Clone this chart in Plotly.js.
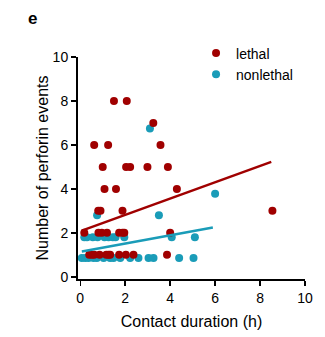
<!DOCTYPE html>
<html>
<head>
<meta charset="utf-8">
<script src="https://cdn.plot.ly/plotly-3.0.1.min.js"></script>
<style>
html,body{margin:0;padding:0;background:#fff;}
#chart{width:325px;height:337px;}
</style>
</head>
<body>
<div id="chart"></div>
<script>
// Lethal contacts
const lethalX = [1.5, 2.07, 3.25, 0.62, 1.24, 3.57,
  1.0, 2.04, 2.22, 2.99, 3.9,
  1.08, 1.59, 4.3,
  0.8, 0.9, 1.88, 8.55,
  0.18, 0.81, 0.96, 1.19, 1.73, 1.88, 1.96, 4.0,
  0.4, 0.52, 0.62, 0.86, 1.16, 1.26, 1.33, 1.73, 2.03, 2.37, 3.86];
const lethalY = [8, 8, 7, 6, 6, 6,
  5, 5, 5, 5, 5,
  4, 4, 4,
  3, 3, 3, 3,
  2, 2, 2, 2, 2, 2, 2, 2,
  1, 1, 1, 1, 1, 1, 1, 1, 1, 1, 1];
// Nonlethal contacts
const nonlethalX = [3.1, 0.75, 3.5, 6.0,
  0.18, 0.3, 0.56, 0.77, 1.08, 1.26, 1.45, 1.57, 1.96, 4.07, 5.1,
  0.07, 0.22, 0.37, 0.59, 0.74, 1.04, 1.33, 1.48, 1.78, 2.22, 2.59, 3.04, 3.26, 4.4, 5.04];
const nonlethalY = [6.75, 2.8, 2.8, 3.78,
  1.8, 1.8, 1.8, 1.8, 1.8, 1.8, 1.8, 1.8, 1.8, 1.8, 1.8,
  0.85, 0.85, 0.85, 0.85, 0.85, 0.85, 0.85, 0.85, 0.85, 0.85, 0.85, 0.85, 0.85, 0.85, 0.85];
// Linear fit lines (endpoints)
const lethalFitX = [0.07, 8.5];
const lethalFitY = [2.1, 5.23];
const nonlethalFitX = [0.07, 5.9];
const nonlethalFitY = [1.15, 2.24];

const xTicks = [0, 2, 4, 6, 8, 10];
const yTicks = [0, 2, 4, 6, 8, 10];

const RED = '#a00000';
const CYAN = '#1a9cb8';
const FONT = 'Arial, "Liberation Sans", sans-serif';

const traces = [
  {x: nonlethalX, y: nonlethalY, type: 'scatter', mode: 'markers', name: 'nonlethal',
   marker: {color: CYAN, size: 8, symbol: 'circle'}, cliponaxis: false},
  {x: lethalX, y: lethalY, type: 'scatter', mode: 'markers', name: 'lethal',
   marker: {color: RED, size: 8, symbol: 'circle'}, cliponaxis: false},
  {x: lethalFitX, y: lethalFitY, type: 'scatter', mode: 'lines', showlegend: false,
   line: {color: RED, width: 2.5}, hoverinfo: 'skip'},
  {x: nonlethalFitX, y: nonlethalFitY, type: 'scatter', mode: 'lines', showlegend: false,
   line: {color: CYAN, width: 2.5}, hoverinfo: 'skip'}
];

const layout = {
  width: 325, height: 337,
  margin: {l: 78, r: 20, t: 57, b: 58},
  paper_bgcolor: '#fff', plot_bgcolor: '#fff',
  font: {family: FONT, size: 14, color: '#000'},
  showlegend: true,
  legend: {x: 0.52, y: 1.088, xanchor: 'left', yanchor: 'top', traceorder: 'reversed',
           font: {family: FONT, size: 14, color: '#000'}, bgcolor: 'rgba(0,0,0,0)', itemclick: false},
  xaxis: {range: [-0.1, 10], tickvals: xTicks, ticktext: xTicks.map(String),
          showgrid: false, zeroline: false, showline: true, linecolor: '#000', linewidth: 2,
          ticks: 'outside', ticklen: 5, tickwidth: 1.5, tickcolor: '#000',
          tickfont: {family: FONT, size: 14, color: '#000'},
          title: {text: 'Contact duration (h)', font: {family: FONT, size: 16, color: '#000'}, standoff: 11}},
  yaxis: {range: [-0.1, 10], tickvals: yTicks, ticktext: yTicks.map(String),
          showgrid: false, zeroline: false, showline: true, linecolor: '#000', linewidth: 2,
          ticks: 'outside', ticklen: 5, tickwidth: 1.5, tickcolor: '#000',
          tickfont: {family: FONT, size: 14, color: '#000'},
          title: {text: 'Number of perforin events', font: {family: FONT, size: 16, color: '#000'}, standoff: 0}},
  annotations: [
    {text: '<b>e</b>', xref: 'paper', yref: 'paper', x: -0.2, y: 1.173, xanchor: 'center', yanchor: 'middle',
     showarrow: false, font: {family: FONT, size: 17, color: '#000'}}
  ]
};

Plotly.newPlot('chart', traces, layout, {displayModeBar: false, staticPlot: true});
</script>
</body>
</html>
